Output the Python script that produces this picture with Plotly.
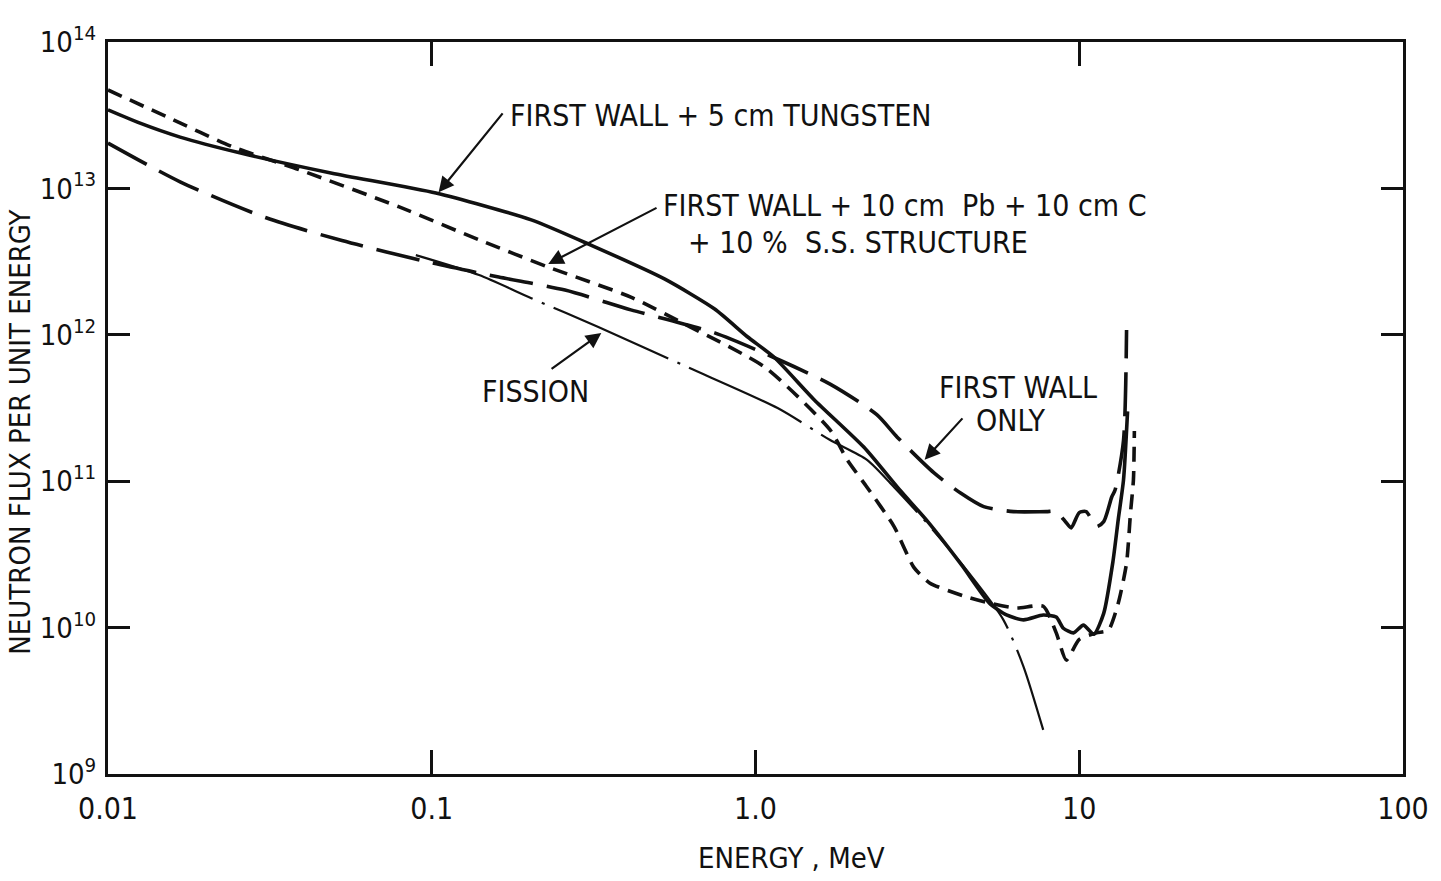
import plotly.graph_objects as go
import math

# ---------------- data ----------------
E_tungsten = [0.01, 0.0125, 0.0167, 0.0255, 0.0492, 0.103, 0.203, 0.31, 0.525, 0.748,
              0.944, 1.14, 1.52, 2.16, 2.79, 3.38, 4.33, 5.28, 5.96, 6.73, 7.74, 8.49,
              8.93, 9.6, 10.3, 11.1, 11.9, 12.7, 13.2, 13.7, 14.1]
F_tungsten = [3.44e13, 2.8e13, 2.24e13, 1.75e13, 1.27e13, 9.3e12, 6.1e12, 4.1e12, 2.4e12, 1.5e12,
              9.7e11, 7.05e11, 3.59e11, 1.71e11, 8.7e10, 5.4e10, 2.68e10, 1.47e10, 1.22e10, 1.13e10,
              1.22e10, 1.18e10, 9.9e9, 9.2e9, 1.04e10, 9.0e9, 1.25e10, 2.8e10, 5.5e10, 1.02e11, 3.0e11]

E_pb = [0.01, 0.0152, 0.0243, 0.039, 0.079, 0.14, 0.229, 0.412, 0.63, 1.07, 1.70, 1.92,
        2.21, 2.68, 3.08, 3.45, 4.49, 5.28, 6.4, 7.74, 8.49, 9.12, 10.0, 11.3, 12.3, 13.2,
        14.0, 14.4, 14.7, 14.8]
F_pb = [4.7e13, 3.08e13, 1.92e13, 1.34e13, 7.5e12, 4.45e12, 2.9e12, 1.81e12, 1.13e12, 6.0e11,
        2.24e11, 1.40e11, 9.1e10, 4.9e10, 2.59e10, 2.02e10, 1.62e10, 1.47e10, 1.36e10, 1.4e10,
        9.2e9, 6.0e9, 8.3e9, 9.2e9, 9.6e9, 1.47e10, 2.76e10, 6.1e10, 1.02e11, 2.2e11]

E_fw = [0.01, 0.0167, 0.0308, 0.0528, 0.1, 0.161, 0.258, 0.412, 0.748, 1.19, 1.70, 2.37,
        2.74, 3.56, 4.3, 5.07, 6.27, 7.91, 8.49, 9.12, 9.44, 10.0, 10.5, 11.3, 11.9, 12.6,
        12.9, 13.7, 14.0]
F_fw = [2.04e13, 1.11e13, 6.3e12, 4.4e12, 3.1e12, 2.48e12, 2.02e12, 1.48e12, 1.03e12, 6.7e11,
        4.6e11, 2.85e11, 2.0e11, 1.14e11, 8.3e10, 6.7e10, 6.2e10, 6.2e10, 6.2e10, 5.2e10, 4.8e10,
        6.1e10, 6.2e10, 4.9e10, 5.3e10, 7.8e10, 8.7e10, 1.9e11, 1.08e12]

E_fission = [0.0893, 0.14, 0.203, 0.327, 0.618, 1.17, 1.70, 2.21, 2.68, 3.38, 4.49, 5.83, 6.73, 7.74]
F_fission = [3.5e12, 2.56e12, 1.78e12, 1.13e12, 6.0e11, 3.16e11, 1.91e11, 1.40e11, 9.1e10, 5.2e10,
             2.47e10, 1.13e10, 5.4e9, 2.0e9]

x_tickvals = [0.01, 0.1, 1.0, 10, 100]
x_ticktext = ["0.01", "0.1", "1.0", "10", "100"]
y_tickvals = [1e9, 1e10, 1e11, 1e12, 1e13, 1e14]
y_ticktext = ["10<sup>9</sup>", "10<sup>10</sup>", "10<sup>11</sup>", "10<sup>12</sup>",
              "10<sup>13</sup>", "10<sup>14</sup>"]

FONT = "Liberation Sans Narrow, DejaVu Sans Condensed, Roboto Condensed, Arial Narrow, sans-serif"
INK = "#111111"

fig = go.Figure()
common = dict(mode="lines", showlegend=False, hoverinfo="skip")
fig.add_trace(go.Scatter(x=E_fw, y=F_fw, line=dict(color=INK, width=3.6, dash="44px,14px",
                                                   shape="spline", smoothing=0.7), **common))
fig.add_trace(go.Scatter(x=E_pb, y=F_pb, line=dict(color=INK, width=3.6, dash="15px,9px",
                                                   shape="spline", smoothing=0.6), **common))
fig.add_trace(go.Scatter(x=E_fission, y=F_fission, line=dict(color=INK, width=2.2,
                                                             dash="125px,10px,3px,10px",
                                                             shape="spline", smoothing=0.7), **common))
fig.add_trace(go.Scatter(x=E_tungsten, y=F_tungsten, line=dict(color=INK, width=3.6,
                                                               shape="spline", smoothing=0.6), **common))
# empty trace to create a top x axis carrying only its own ticks
fig.add_trace(go.Scatter(x=[], y=[], xaxis="x2", yaxis="y", **common))

L = math.log10
anns = []
def text(x, y, t, xanchor="left", size=30):
    anns.append(dict(x=L(x), y=L(y), xref="x", yref="y", text=t, showarrow=False,
                     xanchor=xanchor, yanchor="middle", font=dict(family=FONT, size=size, color=INK)))
def arrow(x0, y0, x1, y1):
    anns.append(dict(x=L(x1), y=L(y1), ax=L(x0), ay=L(y0), xref="x", yref="y", axref="x", ayref="y",
                     text="", showarrow=True, arrowhead=2, arrowsize=1.4, arrowwidth=2.2,
                     arrowcolor=INK, standoff=0, startstandoff=0))

text(0.172, 3.17e13, "FIRST WALL + 5 cm TUNGSTEN")
arrow(0.167, 3.33e13, 0.105, 9.4e12)
text(0.51, 7.7e12, "FIRST WALL + 10 cm  Pb + 10 cm C")
text(0.61, 4.3e12, "+ 10 %  S.S. STRUCTURE")
arrow(0.5, 7.45e12, 0.229, 3.05e12)
text(0.209, 4.13e11, "FISSION", xanchor="center")
arrow(0.232, 5.75e11, 0.334, 1.03e12)
text(6.49, 4.4e11, "FIRST WALL", xanchor="center")
text(6.14, 2.58e11, "ONLY", xanchor="center")
arrow(4.4, 2.75e11, 3.33, 1.4e11)

# axis titles placed as paper annotations (positions from the reference)
anns.append(dict(x=0.528, y=-0.115, xref="paper", yref="paper", text="ENERGY , MeV",
                 showarrow=False, xanchor="center", yanchor="middle",
                 font=dict(family=FONT, size=29, color=INK)))
anns.append(dict(x=-0.0675, y=0.467, xref="paper", yref="paper", text="NEUTRON FLUX PER UNIT ENERGY",
                 showarrow=False, xanchor="center", yanchor="middle", textangle=-90,
                 font=dict(family=FONT, size=29, color=INK)))

axis_line = dict(showline=True, linecolor=INK, linewidth=3, showgrid=False, zeroline=False)
fig.update_layout(
    width=1441, height=881,
    margin=dict(l=108, r=31, t=42, b=107),
    paper_bgcolor="white", plot_bgcolor="white",
    font=dict(family=FONT, color=INK),
    annotations=anns,
    xaxis=dict(type="log", range=[-2, 2], tickvals=x_tickvals, ticktext=x_ticktext,
               ticks="inside", ticklen=24, tickwidth=2.5, tickcolor=INK, mirror=True,
               tickfont=dict(family=FONT, size=30, color=INK), ticklabelstandoff=6,
               **axis_line),
    xaxis2=dict(type="log", range=[-2, 2], overlaying="x", side="top", anchor="y",
                tickvals=[0.1, 10], ticks="inside", ticklen=24, tickwidth=2.5, tickcolor=INK,
                showticklabels=False, showline=False, showgrid=False, zeroline=False),
    yaxis=dict(type="log", range=[9, 14], tickvals=y_tickvals, ticktext=y_ticktext,
               ticks="inside", ticklen=22, tickwidth=2.5, tickcolor=INK, mirror="ticks",
               tickfont=dict(family=FONT, size=29, color=INK), ticklabelstandoff=3,
               **axis_line),
)

fig.write_html("out.html")
